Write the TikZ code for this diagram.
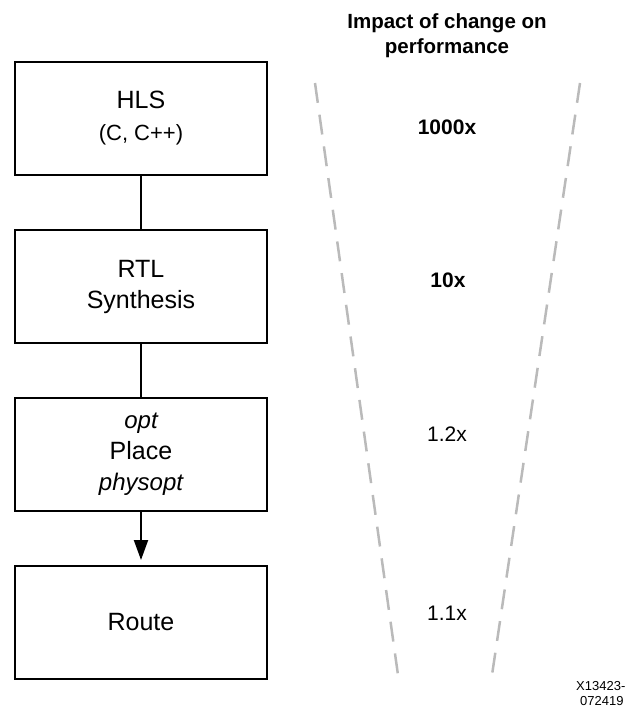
\documentclass[tikz,border=0pt]{standalone}
\usepackage{fontspec}
\setmainfont{Liberation Sans}
\usetikzlibrary{positioning,arrows.meta}
\tikzset{stage/.style={draw,line width=2pt,minimum width=252pt,minimum height=113pt,
                       align=center,font=\fontsize{25}{31}\selectfont},
         gain/.style={font=\fontsize{21}{25}\selectfont},
         funnel/.style={draw=black!27,line width=2.5pt,dash pattern=on 20pt off 12pt}}

\begin{document}
\begin{tikzpicture}[x=1pt,y=1pt,node distance=53pt]
                   \useasboundingbox (0,0) rectangle (624,-709);
                   \node[stage] (hls) at (141,-118.5) {HLS\\[1pt]{\fontsize{22}{26}\selectfont (C, C++)}};
                   \node[stage] (rtl) [below=of hls] {RTL\\Synthesis};
                   \node[stage] (place) [below=of rtl] {{\fontsize{24}{30}\selectfont\itshape opt}\\Place\\{\fontsize{24}{30}\selectfont\itshape physopt}};
                   \node[stage] (route) [below=of place] {Route};
                    \path[line width=2pt]
                    (hls) edge (rtl)
                    (rtl) edge (place)
                    (place) edge [-{Triangle[length=20pt,width=14pt]},shorten >=5pt] (route);
                   \node[font=\bfseries\fontsize{20.5}{25}\selectfont,align=center] (title) at (447,-36) {Impact of change on\\performance};
                   \draw[funnel] (315,-83) -- (398,-675);
                   \draw[funnel] (580,-83) -- (492,-675);
                   \node[gain,font=\bfseries\fontsize{21}{25}\selectfont] (g_1) at (447,-127) {1000x};
                   \node[gain,font=\bfseries\fontsize{21}{25}\selectfont] (g_2) at (448,-280) {10x};
                   \node[gain] (g_3) at (447,-434) {1.2x};
                   \node[gain] (g_4) at (447,-613) {1.1x};
                   \node[align=left,anchor=north west,font=\fontsize{13}{15}\selectfont,inner sep=0pt] (id) at (576,-681) {X13423-\\\hspace*{4pt}072419};
                \end{tikzpicture}
\end{document}
